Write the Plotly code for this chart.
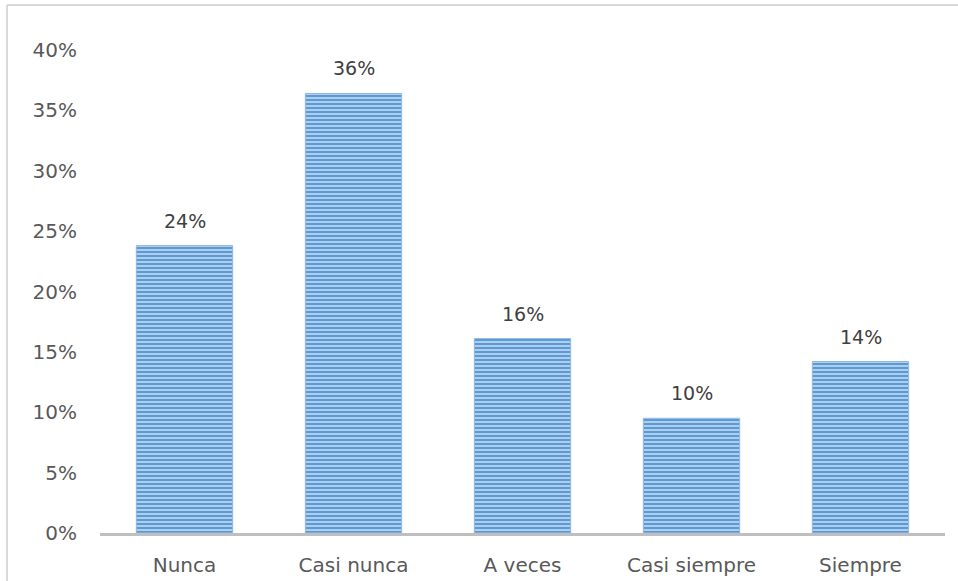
import plotly.graph_objects as go

categories = ["Nunca", "Casi nunca", "A veces", "Casi siempre", "Siempre"]
values = [0.238, 0.364, 0.161, 0.095, 0.142]
labels = ["24%", "36%", "16%", "10%", "14%"]
tick_vals = [0, 0.05, 0.10, 0.15, 0.20, 0.25, 0.30, 0.35, 0.40]
tick_text = ["0%", "5%", "10%", "15%", "20%", "25%", "30%", "35%", "40%"]

FONT = "DejaVu Sans"

fig = go.Figure(go.Bar(
    x=categories,
    y=values,
    marker=dict(
        color="#b4d0ec",
        line=dict(color="#8fb8e3", width=1),
        pattern=dict(shape="-", size=4, solidity=0.55, fgcolor="#5b9bd5", bgcolor="#b9d4ee", fillmode="replace"),
    ),
    width=0.57,
    hoverinfo="skip",
))

for c, v, t in zip(categories, values, labels):
    fig.add_annotation(x=c, y=v, text=t, showarrow=False, yanchor="bottom", yshift=12,
                       font=dict(family=FONT, size=19, color="#404040"))

fig.update_layout(
    width=958, height=581,
    margin=dict(l=100, r=13, t=50, b=48, autoexpand=False),
    paper_bgcolor="white", plot_bgcolor="white",
    showlegend=False,
    xaxis=dict(
        showgrid=False, showline=True, linecolor="#bfbfbf", linewidth=3,
        ticks="", tickfont=dict(family=FONT, size=20, color="#595959"),
        ticklabelstandoff=12, automargin=False,
    ),
    yaxis=dict(
        range=[0, 0.4], showgrid=False, zeroline=False, showline=False,
        tickvals=tick_vals, ticktext=tick_text, ticks="",
        tickfont=dict(family=FONT, size=20, color="#595959"),
        ticklabelstandoff=22, automargin=False,
    ),
    shapes=[
        dict(type="line", xref="paper", yref="paper", x0=-0.110, x1=1.02, y0=1.093, y1=1.093,
             line=dict(color="#d9d9d9", width=2)),
        dict(type="line", xref="paper", yref="paper", x0=-0.110, x1=-0.110, y0=1.093, y1=-0.2,
             line=dict(color="#d9d9d9", width=2)),
    ],
)

fig.write_html("out.html", config={"displayModeBar": False},
               post_script="document.body.style.margin='0';document.body.style.overflow='hidden';")
